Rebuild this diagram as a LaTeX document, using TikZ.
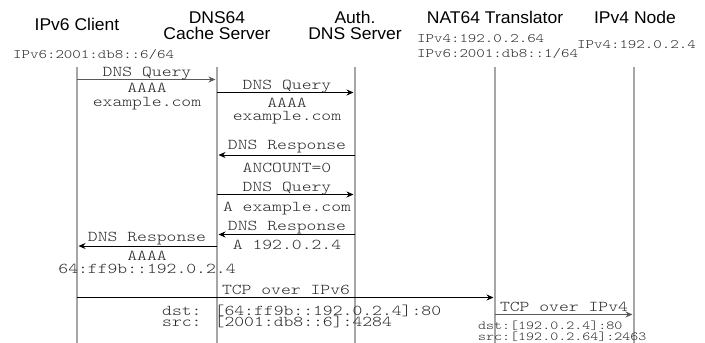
\documentclass[tikz,border=0pt]{standalone}
\usepackage{fontspec}
\usetikzlibrary{arrows.meta}
\newfontfamily\msgfont[FakeStretch=1.25]{lmmonolt10-regular.otf}
\newfontfamily\headfont[FakeStretch=1.03]{Liberation Sans}
\newlength{\du}
\setlength{\du}{1pt}
\definecolor{lifegray}{rgb}{0.650000, 0.650000, 0.650000}
\definecolor{arrowgray}{rgb}{0.350000, 0.350000, 0.350000}
\definecolor{textgray}{rgb}{0.150000, 0.150000, 0.150000}
\tikzset{
  lifeline/.style={draw=lifegray, line width=1.3pt},
  msgarrow/.style={draw=black, line width=0.9pt, -{Stealth[length=7pt,width=6pt]}, shorten >=1.5pt},
  grayarrow/.style={msgarrow, draw=arrowgray, fill=arrowgray, line width=1.4pt},
  headtext/.style={font=\headfont\fontsize{17}{18}\selectfont, inner sep=0pt, anchor=base},
  addrtext/.style={font=\msgfont\fontsize{12.9}{14}\selectfont, text=textgray, inner sep=0pt, anchor=base west},
  msgtext/.style={font=\msgfont\fontsize{15}{16}\selectfont, text=textgray, inner sep=0pt, anchor=base},
  msgleft/.style={msgtext, anchor=base west},
  smalltext/.style={font=\msgfont\fontsize{12.2}{13}\selectfont, text=textgray, inner sep=0pt, anchor=base west},
}

\begin{document}
\begin{tikzpicture}
\pgftransformxscale{1.000000}
\pgftransformyscale{-1.000000}
\useasboundingbox (0\du,0\du) rectangle (705\du,343\du);
% headers
\node[headtext] (client) at (77\du,30.5\du){IPv6 Client};
\node[headtext] (dns64a) at (217\du,23.5\du){DNS64};
\node[headtext] (dns64b) at (217\du,39\du){Cache Server};
\node[headtext] (autha) at (355\du,23.5\du){Auth.};
\node[headtext] (authb) at (355\du,39\du){DNS Server};
\node[headtext] (nat64) at (495\du,23.5\du){NAT64 Translator};
\node[headtext] (v4node) at (635\du,23.5\du){IPv4 Node};
% addresses
\node[addrtext] (clientaddr) at (13\du,58\du){IPv6:2001:db8::6/64};
\node[addrtext] (nataddra) at (417\du,42\du){IPv4:192.0.2.64};
\node[addrtext] (nataddrb) at (417\du,57\du){IPv6:2001:db8::1/64};
\node[addrtext] (v4addr) at (577\du,48\du){IPv4:192.0.2.4};
% lifelines
\coordinate (cl-t) at (77\du,67\du);
\coordinate (cl-b) at (77\du,343\du);
\coordinate (dc-t) at (217\du,67\du);
\coordinate (dc-b) at (217\du,343\du);
\coordinate (au-t) at (355\du,67\du);
\coordinate (au-b) at (355\du,343\du);
\coordinate (na-t) at (495\du,67\du);
\coordinate (na-b) at (495\du,343\du);
\coordinate (v4-t) at (634\du,67\du);
\coordinate (v4-b) at (634\du,343\du);
\draw[lifeline] (cl-t)--(cl-b);
\draw[lifeline] (dc-t)--(dc-b);
\draw[lifeline] (au-t)--(au-b);
\draw[lifeline] (na-t)--(na-b);
\draw[lifeline] (v4-t)--(v4-b);
% message end points
\coordinate (cl-1) at (77\du,79.5\du);
\coordinate (dc-1) at (217\du,79.5\du);
\coordinate (dc-2) at (217\du,92.5\du);
\coordinate (au-2) at (355\du,92.5\du);
\coordinate (au-3) at (355\du,155\du);
\coordinate (dc-3) at (217\du,155\du);
\coordinate (dc-4) at (217\du,194.5\du);
\coordinate (au-4) at (355\du,194.5\du);
\coordinate (au-5) at (355\du,234.5\du);
\coordinate (dc-5) at (217\du,234.5\du);
\coordinate (dc-6) at (217\du,246\du);
\coordinate (cl-6) at (77\du,246\du);
\coordinate (cl-7) at (77\du,297.5\du);
\coordinate (na-7) at (495\du,297.5\du);
\coordinate (na-8) at (495\du,314.5\du);
\coordinate (v4-8) at (634\du,314.5\du);
% AAAA query
\draw[grayarrow] (cl-1)--(dc-1);
\node[msgtext] (q1) at (147\du,76\du){DNS Query};
\node[msgtext] (q1a) at (147\du,92\du){AAAA};
\node[msgtext] (q1b) at (147\du,106\du){example.com};
\draw[msgarrow] (dc-2)--(au-2);
\node[msgtext] (q2) at (287\du,89.5\du){DNS Query};
\node[msgtext] (q2a) at (287\du,107\du){AAAA};
\node[msgtext] (q2b) at (287\du,120.5\du){example.com};
% empty answer
\draw[msgarrow] (au-3)--(dc-3);
\node[msgtext] (r3) at (287\du,149\du){DNS Response};
\node[msgtext] (r3a) at (287\du,172.5\du){ANCOUNT=0};
% A query
\draw[msgarrow] (dc-4)--(au-4);
\node[msgtext] (q4) at (287\du,191.5\du){DNS Query};
\node[msgtext] (q4a) at (287\du,211.5\du){A example.com};
\draw[msgarrow] (au-5)--(dc-5);
\node[msgtext] (r5) at (287\du,230\du){DNS Response};
\node[msgtext] (r5a) at (287\du,249\du){A 192.0.2.4};
% synthesized answer
\draw[msgarrow] (dc-6)--(cl-6);
\node[msgtext] (r6) at (147\du,241.5\du){DNS Response};
\node[msgtext] (r6a) at (147\du,260.5\du){AAAA};
\node[msgtext] (r6b) at (147\du,273\du){64:ff9b::192.0.2.4};
% TCP
\draw[msgarrow] (cl-7)--(na-7);
\node[msgtext] (t7) at (286\du,294\du){TCP over IPv6};
\node[msgleft] (t7a) at (162\du,315\du){dst: [64:ff9b::192.0.2.4]:80};
\node[msgleft] (t7b) at (162\du,326.5\du){src: [2001:db8::6]:4284};
\draw[grayarrow] (na-8)--(v4-8);
\node[msgtext] (t8) at (564\du,311\du){TCP over IPv4};
\node[smalltext] (t8a) at (478\du,329\du){dst:[192.0.2.4]:80};
\node[smalltext] (t8b) at (478\du,340\du){src:[192.0.2.64]:2463};
\end{tikzpicture}
\end{document}
